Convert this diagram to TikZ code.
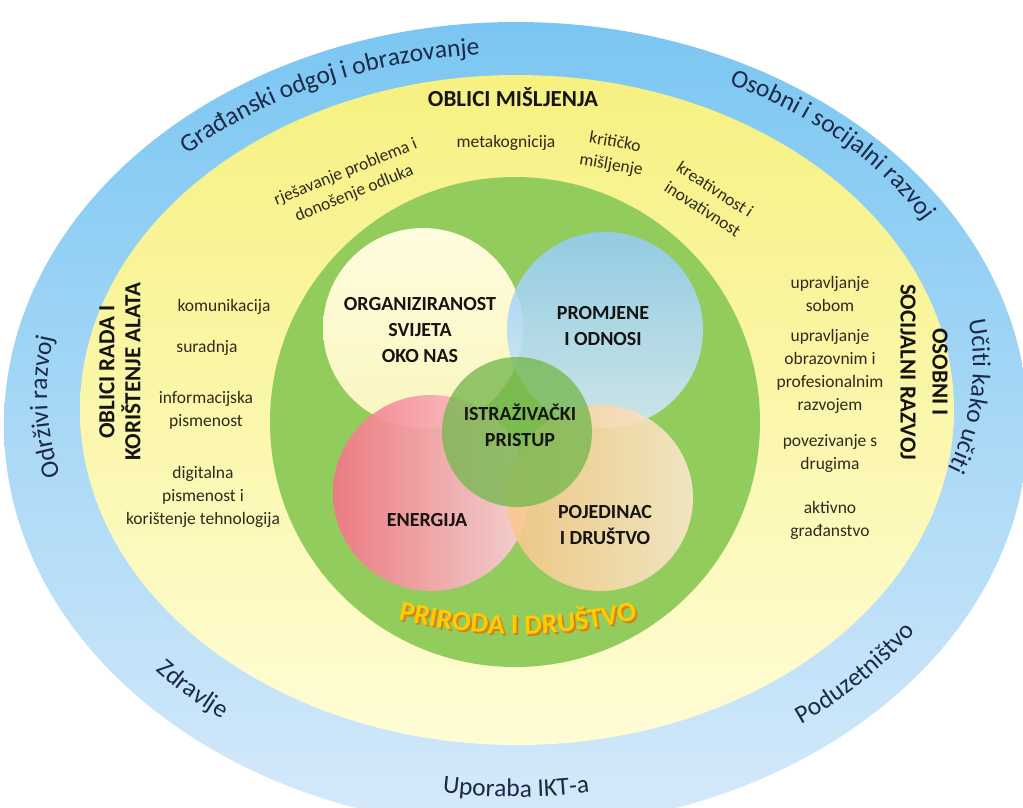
\documentclass[tikz,border=0pt]{standalone}
\usepackage{fontspec}
\setmainfont{Carlito}
\usetikzlibrary{decorations.text}
\definecolor{bluetop}{RGB}{122,198,242}
\definecolor{bluebot}{RGB}{214,234,250}
\definecolor{yeltop}{RGB}{246,241,128}
\definecolor{yelbot}{RGB}{255,252,214}
\definecolor{biggreen}{RGB}{145,204,92}
\definecolor{creamtop}{RGB}{254,252,222}
\definecolor{creambot}{RGB}{250,246,190}
\definecolor{cbluetop}{RGB}{148,204,245}
\definecolor{cbluebot}{RGB}{212,233,250}
\definecolor{pinkl}{RGB}{243,118,135}
\definecolor{pinkr}{RGB}{251,210,216}
\definecolor{orangel}{RGB}{250,198,138}
\definecolor{oranger}{RGB}{253,233,206}
\definecolor{cgreen}{RGB}{118,184,78}
\definecolor{bandtext}{RGB}{28,42,72}
\definecolor{txt}{RGB}{48,42,30}
\definecolor{headtxt}{RGB}{22,20,16}
\definecolor{prygold}{RGB}{255,204,0}
\definecolor{pryshadow}{RGB}{214,128,28}
\newcommand{\bandfont}{\fontsize{25.5}{30}\selectfont\color{bandtext}}
\newcommand{\pryfont}{\bfseries\fontsize{28}{30}\selectfont}
\begin{document}
\begin{tikzpicture}[x=1pt,y=1pt,
  small/.style={font=\fontsize{17.5}{23}\selectfont, text=txt, align=center, inner sep=0pt},
  headl/.style={font=\bfseries\fontsize{23}{26}\selectfont, text=headtxt, align=center, inner sep=0pt},
  headr/.style={font=\bfseries\fontsize{23}{32}\selectfont, text=headtxt, align=center, inner sep=0pt},
  innerlab/.style={font=\bfseries\fontsize{20}{26}\selectfont, text=headtxt, align=center, inner sep=0pt},
  bandlab/.style={decorate, decoration={text along path, text align=center, text={|\bandfont|#1}}},
]
\useasboundingbox (0,0) rectangle (1023,-807);
\fill[white] (0,0) rectangle (1023,-807);
\begin{scope}
\clip (0,0) rectangle (1023,-807);
% outer blue band
\shade[top color=bluetop, bottom color=bluebot] (516,-425) ellipse [x radius=512, y radius=403];
% yellow ring
\shade[top color=yeltop, bottom color=yelbot] (517,-410) ellipse [x radius=437, y radius=335];
\end{scope}
% green disc
\fill[biggreen] (515,-422) circle [radius=245];
% four circles
\shade[top color=creamtop, bottom color=creambot] (423,-328) circle [radius=100];
\shade[top color=cbluetop, bottom color=cbluebot, opacity=0.88] (605,-330) circle [radius=98];
\shade[left color=pinkl, right color=pinkr, opacity=0.92] (431,-493) circle [radius=98];
\shade[left color=orangel, right color=oranger, opacity=0.88] (600,-498) circle [radius=93];
\fill[cgreen, fill opacity=0.78] (517,-432) circle [radius=75];

% inner labels
\node[innerlab] (org) at (420,-330) {ORGANIZIRANOST\\SVIJETA\\OKO NAS};
\node[innerlab] (prom) at (603,-326) {PROMJENE\\I ODNOSI};
\node[innerlab] (ist) at (520,-425) {ISTRAŽIVAČKI\\PRISTUP};
\node[innerlab] (ene) at (427,-520) {ENERGIJA};
\node[innerlab] (poj) at (605,-525) {POJEDINAC\\I DRUŠTVO};

% PRIRODA I DRUSTVO (curved)
\path[decorate, decoration={text along path, text align=center, text={|\pryfont\color{pryshadow}|PRIRODA I DRUŠTVO}}]
  ([shift={(252:500)}]520,-136) arc [start angle=252, end angle=288, radius=500];
\path[decorate, decoration={text along path, text align=center, text={|\pryfont\color{prygold}|PRIRODA I DRUŠTVO}}]
  ([shift={(252:500)}]518,-134) arc [start angle=252, end angle=288, radius=500];

% top: oblici misljenja
\node[headl] (om) at (513,-97) {OBLICI MIŠLJENJA};
\node[small] (meta) at (506,-143) {metakognicija};
\node[small, rotate=22] (rjes) at (350,-183) {rješavanje problema i\\donošenje odluka};
\node[small, rotate=-10] (krit) at (613,-154) {kritičko\\mišljenje};
\node[small, rotate=-33] (krea) at (709,-199) {kreativnost i\\inovativnost};

% left: oblici rada
\node[headl, rotate=90] (ork) at (120,-372) {OBLICI RADA I\\KORIŠTENJE ALATA};
\node[small] (kom) at (224,-307) {komunikacija};
\node[small] (sur) at (207,-348) {suradnja};
\node[small] (inf) at (206,-410) {informacijska\\pismenost};
\node[small] (dig) at (203,-497) {digitalna\\pismenost i\\korištenje tehnologija};

% right: osobni i socijalni razvoj
\node[headr, rotate=-90] (osr) at (924,-372) {OSOBNI I\\SOCIJALNI RAZVOJ};
\node[small] (sob) at (830,-294) {upravljanje\\sobom};
\node[small] (obr) at (830,-371) {upravljanje\\obrazovnim i\\profesionalnim\\razvojem};
\node[small] (pov) at (830,-453) {povezivanje s\\drugima};
\node[small] (akt) at (830,-520) {aktivno\\građanstvo};

% outer band labels
\path[bandlab={Građanski odgoj i obrazovanje}]
  ([shift={(162:462 and 342)}]514,-396) arc [start angle=162, end angle=72, x radius=462, y radius=342];
\path[bandlab={Osobni i socijalni razvoj}]
  ([shift={(86:459 and 318)}]514,-365) arc [start angle=86, end angle=-6, x radius=459, y radius=318];
\path[bandlab={Učiti kako učiti}]
  ([shift={(25:459 and 318)}]514,-365) arc [start angle=25, end angle=-35, x radius=459, y radius=318];
\path[bandlab={Održivi razvoj}]
  ([shift={(212:467 and 340)}]514,-394) arc [start angle=212, end angle=152, x radius=467, y radius=340];
\path[bandlab={Zdravlje}]
  ([shift={(195:480 and 372)}]516,-425) arc [start angle=195, end angle=255, x radius=480, y radius=372];
\path[bandlab={Uporaba IKT-a}]
  ([shift={(240:480 and 372)}]516,-425) arc [start angle=240, end angle=300, x radius=480, y radius=372];
\path[bandlab={Poduzetništvo}]
  ([shift={(288:480 and 372)}]516,-425) arc [start angle=288, end angle=348, x radius=480, y radius=372];
\end{tikzpicture}
\end{document}
